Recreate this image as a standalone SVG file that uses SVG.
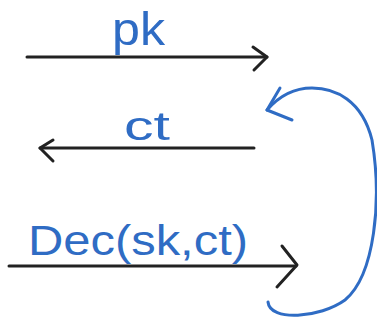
<svg xmlns="http://www.w3.org/2000/svg" width="377" height="322" viewBox="0 0 377 322">
<style>
.ln{stroke:#222;stroke-width:3;fill:none;stroke-linecap:round;stroke-linejoin:round}
.bl{stroke:#2f6cc4;stroke-width:3;fill:none;stroke-linecap:round;stroke-linejoin:round}
.lb{fill:#2f6cc4;font-family:"Liberation Sans",Arial,sans-serif}
</style>
<rect width="377" height="322" fill="#fff"/>
<g id="connectors">
<g id="arrow-pk">
<path class="ln" d="M27,57 L267,57"/>
<path class="ln" d="M253,47 L267,57 L254,70"/>
</g>
<g id="arrow-ct">
<path class="ln" d="M254,148 L40,148"/>
<path class="ln" d="M53,140 L40,148 L53,161"/>
</g>
<g id="arrow-dec">
<path class="ln" d="M9,266 L296,266"/>
<path class="ln" d="M282,246 L297,265 L277,287"/>
</g>
<g id="loop">
<path class="bl" d="M268,302 C270,322 320,318 345,300 C375,275 382,200 372,140 C362,100 335,88 312,88 C295,88 280,95 267,110"/>
<path class="bl" d="M280,88 L267,110 L292,120"/>
</g>
</g>
<g id="label-pk"><text class="lb" x="112" y="45" font-size="46" textLength="53" lengthAdjust="spacingAndGlyphs">pk</text></g>
<g id="label-ct"><text class="lb" x="124" y="140" font-size="40" textLength="46" lengthAdjust="spacingAndGlyphs">ct</text></g>
<g id="label-dec"><text class="lb" x="28" y="255" font-size="42" textLength="220" lengthAdjust="spacingAndGlyphs">Dec(sk,ct)</text></g>
</svg>
